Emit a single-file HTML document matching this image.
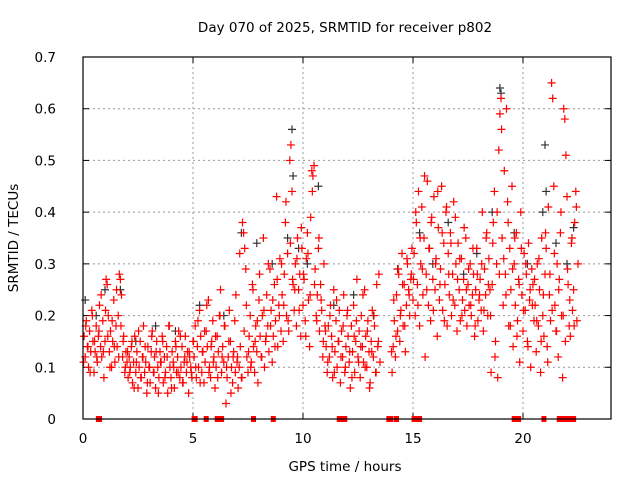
<!DOCTYPE html>
<html><head><meta charset="utf-8"><style>
body{margin:0;background:#fff}
svg{display:block;font-family:"DejaVu Sans","Liberation Sans",sans-serif}
</style></head><body>
<svg id="chart" width="640" height="480" viewBox="0 0 640 480">
<rect width="640" height="480" fill="#fff"/>
<text x="345" y="32" font-size="13.5" text-anchor="middle">Day 070 of 2025, SRMTID for receiver p802</text>
<text x="345" y="471" font-size="13.5" text-anchor="middle">GPS time / hours</text>
<text transform="translate(18,238) rotate(-90)" font-size="13.5" text-anchor="middle">SRMTID / TECUs</text>
<g id="grid"></g>
<g id="ticks"></g>
<g id="black"></g>
<g id="red"></g>
<rect x="83" y="57" width="528" height="362" fill="none" stroke="#000" stroke-width="1.2"/>
</svg>
<script>
const xTicks=[0,5,10,15,20];
const yTicks=[0,0.1,0.2,0.3,0.4,0.5,0.6,0.7];
const yTickLabels=["0","0.1","0.2","0.3","0.4","0.5","0.6","0.7"];
const redHours=[
0.05,0.1,0.15,0.2,0.25,0.3,0.35,0.4,0.45,0.5,
0.55,0.6,0.65,0.7,0.75,0.8,0.85,0.9,0.95,1.0,
1.05,1.1,1.15,1.2,1.25,1.3,1.35,1.4,1.45,1.5,
1.55,1.6,1.65,1.7,1.75,1.8,1.85,1.9,1.95,2.0,
2.05,2.1,2.15,2.2,2.25,2.3,2.35,2.4,2.45,2.5,
2.55,2.6,2.65,2.7,2.75,2.8,2.85,2.9,2.95,3.0,
3.05,3.1,3.15,3.2,3.25,3.3,3.35,3.4,3.45,3.5,
3.55,3.6,3.65,3.7,3.75,3.8,3.85,3.9,3.95,4.0,
4.05,4.1,4.15,4.2,4.25,4.3,4.35,4.4,4.45,4.5,
4.55,4.6,4.65,4.7,4.75,4.8,4.85,4.9,4.95,5.0,
5.05,5.1,5.15,5.2,5.25,5.3,5.35,5.4,5.45,5.5,
5.55,5.6,5.65,5.7,5.75,5.8,5.85,5.9,5.95,6.0,
6.05,6.1,6.15,6.2,6.25,6.3,6.35,6.4,6.45,6.5,
6.55,6.6,6.65,6.7,6.75,6.8,6.85,6.9,6.95,7.0,
7.05,7.1,7.15,7.2,7.25,7.3,7.35,7.4,7.45,7.5,
7.55,7.6,7.65,7.7,7.75,7.8,7.85,7.9,7.95,8.0,
8.05,8.1,8.15,8.2,8.25,8.3,8.35,8.4,8.45,8.5,
8.55,8.6,8.65,8.7,8.75,8.8,8.85,8.9,8.95,9.0,
9.05,9.1,9.15,9.2,9.25,9.3,9.35,9.4,9.45,9.5,
9.55,9.6,9.65,9.7,9.75,9.8,9.85,9.9,9.95,10.0,
10.05,10.1,10.15,10.2,10.25,10.3,10.35,10.4,10.45,10.5,
10.55,10.6,10.65,10.7,10.75,10.8,10.85,10.9,10.95,11.0,
11.05,11.1,11.15,11.2,11.25,11.3,11.35,11.4,11.45,11.5,
11.55,11.6,11.65,11.7,11.75,11.8,11.85,11.9,11.95,12.0,
12.05,12.1,12.15,12.2,12.25,12.3,12.35,12.4,12.45,12.5,
12.55,12.6,12.65,12.7,12.75,12.8,12.85,12.9,12.95,13.0,
13.05,13.1,13.15,13.2,13.25,13.3,13.35,13.4,13.45,13.5,
14.05,14.1,14.15,14.2,14.25,14.3,14.35,14.4,14.45,14.5,
14.55,14.6,14.65,14.7,14.75,14.8,14.85,14.9,14.95,15.0,
15.05,15.1,15.15,15.2,15.25,15.3,15.35,15.4,15.45,15.5,
15.55,15.6,15.65,15.7,15.75,15.8,15.85,15.9,15.95,16.0,
16.05,16.1,16.15,16.2,16.25,16.3,16.35,16.4,16.45,16.5,
16.55,16.6,16.65,16.7,16.75,16.8,16.85,16.9,16.95,17.0,
17.05,17.1,17.15,17.2,17.25,17.3,17.35,17.4,17.45,17.5,
17.55,17.6,17.65,17.7,17.75,17.8,17.85,17.9,17.95,18.0,
18.05,18.1,18.15,18.2,18.25,18.3,18.35,18.4,18.45,18.5,
18.55,18.6,18.65,18.7,18.75,18.8,18.85,18.9,18.95,19.0,
19.05,19.1,19.15,19.2,19.25,19.3,19.35,19.4,19.45,19.5,
19.55,19.6,19.65,19.7,19.75,19.8,19.85,19.9,19.95,20.0,
20.05,20.1,20.15,20.2,20.25,20.3,20.35,20.4,20.45,20.5,
20.55,20.6,20.65,20.7,20.75,20.8,20.85,20.9,20.95,21.0,
21.05,21.1,21.15,21.2,21.25,21.3,21.35,21.4,21.45,21.5,
21.55,21.6,21.65,21.7,21.75,21.8,21.85,21.9,21.95,22.0,
22.05,22.1,22.15,22.2,22.25,22.3,22.35,22.4,22.45,22.5];
const redValues=[
.16,.12,.19,.14,.10,.17,.13,.21,.15,.09,
.13,.18,.11,.16,.22,.14,.12,.19,.08,.15,
.27,.26,.20,.13,.17,.10,.15,.23,.11,.18,
.14,.20,.28,.27,.24,.12,.16,.09,.13,.11,
.08,.12,.10,.14,.07,.11,.16,.09,.13,.06,
.10,.15,.08,.12,.18,.09,.11,.05,.14,.10,
.07,.13,.17,.09,.12,.06,.15,.10,.08,.13,
.11,.16,.07,.12,.09,.14,.05,.18,.10,.08,
.13,.11,.06,.15,.09,.12,.17,.08,.10,.14,
.07,.11,.16,.09,.13,.05,.12,.10,.08,.15,
.12,.18,.08,.14,.10,.21,.16,.09,.13,.07,
.11,.17,.14,.23,.10,.08,.15,.19,.12,.06,
.10,.16,.13,.20,.25,.09,.14,.11,.18,.03,
.08,.12,.21,.15,.10,.07,.13,.19,.24,.11,
.06,.10,.14,.08,.38,.36,.33,.29,.12,.09,
.16,.20,.11,.26,.14,.09,.18,.13,.07,.23,
.16,.12,.20,.35,.10,.15,.24,.18,.13,.29,
.21,.11,.16,.26,.19,.43,.14,.22,.31,.17,
.24,.15,.28,.38,.20,.32,.17,.50,.53,.44,
.26,.21,.30,.18,.35,.25,.28,.16,.33,.22,
.27,.19,.31,.36,.23,.14,.39,.48,.47,.49,
.29,.20,.24,.33,.17,.26,.21,.12,.30,.18,
.14,.09,.18,.12,.22,.16,.08,.25,.13,.19,
.10,.15,.21,.07,.17,.12,.24,.09,.14,.20,
.16,.11,.06,.18,.13,.22,.09,.15,.27,.12,
.17,.08,.20,.14,.11,.25,.16,.10,.19,.13,
.07,.15,.21,.12,.18,.09,.26,.14,.28,.11,
.09,.14,.19,.12,.24,.17,.28,.15,.21,.32,
.18,.26,.13,.22,.30,.25,.20,.27,.33,.23,
.32,.20,.38,.26,.44,.18,.30,.41,.24,.35,
.12,.28,.46,.22,.33,.19,.39,.27,.43,.25,
.31,.16,.37,.23,.29,.45,.21,.34,.26,.40,
.18,.32,.24,.36,.20,.28,.42,.22,.30,.17,
.34,.25,.19,.31,.23,.27,.21,.35,.18,.26,
.22,.30,.20,.24,.28,.16,.25,.33,.19,.23,
.27,.21,.40,.17,.29,.24,.36,.20,.31,.25,
.09,.26,.38,.44,.15,.30,.08,.52,.59,.62,
.35,.22,.48,.28,.60,.42,.18,.33,.25,.45,
.14,.30,.22,.36,.19,.27,.11,.40,.24,.17,
.32,.21,.28,.15,.34,.23,.10,.29,.26,.19,
.22,.13,.30,.18,.25,.09,.35,.20,.16,.28,
.33,.14,.41,.24,.19,.65,.62,.45,.22,.17,
.30,.12,.27,.36,.20,.08,.60,.58,.51,.43,
.26,.18,.16,.34,.21,.25,.38,.44,.19,.30];
const red2Hours=[
0.025,0.125,0.225,0.325,0.425,0.525,0.625,0.725,0.825,0.925,
1.025,1.125,1.225,1.325,1.425,1.525,1.625,1.725,1.825,1.925,
2.025,2.125,2.225,2.325,2.425,2.525,2.625,2.725,2.825,2.925,
3.025,3.125,3.225,3.325,3.425,3.525,3.625,3.725,3.825,3.925,
4.025,4.125,4.225,4.325,4.425,4.525,4.625,4.725,4.825,4.925,
5.025,5.125,5.225,5.325,5.425,5.525,5.625,5.725,5.825,5.925,
6.025,6.125,6.225,6.325,6.425,6.525,6.625,6.725,6.825,6.925,
7.025,7.125,7.225,7.325,7.425,7.525,7.625,7.725,7.825,7.925,
8.025,8.125,8.225,8.325,8.425,8.525,8.625,8.725,8.825,8.925,
9.025,9.125,9.225,9.325,9.425,9.525,9.625,9.725,9.825,9.925,
10.025,10.125,10.225,10.325,10.425,10.525,10.625,10.725,10.825,10.925,
11.025,11.125,11.225,11.325,11.425,11.525,11.625,11.725,11.825,11.925,
12.025,12.125,12.225,12.325,12.425,12.525,12.625,12.725,12.825,12.925,
13.025,13.125,13.225,13.325,13.425,
14.025,14.125,14.225,14.325,14.425,14.525,14.625,14.725,14.825,14.925,
15.025,15.125,15.225,15.325,15.425,15.525,15.625,15.725,15.825,15.925,
16.025,16.125,16.225,16.325,16.425,16.525,16.625,16.725,16.825,16.925,
17.025,17.125,17.225,17.325,17.425,17.525,17.625,17.725,17.825,17.925,
18.025,18.125,18.225,18.325,18.425,
18.525,18.625,18.725,18.825,18.925,19.025,19.125,19.225,19.325,19.425,
19.525,19.625,19.725,19.825,19.925,20.025,20.125,20.225,20.325,20.425,
20.525,20.625,20.725,20.825,20.925,21.025,21.125,21.225,21.325,21.425,
21.525,21.625,21.725,21.825,21.925,22.025,22.125,22.225,22.325,22.425];
const red2Values=[
.11,.18,.14,.09,.20,.15,.12,.17,.24,.13,
.21,.16,.10,.19,.14,.25,.12,.18,.15,.10,
.13,.09,.15,.06,.11,.17,.08,.12,.14,.07,
.10,.16,.09,.13,.05,.11,.15,.08,.12,.18,
.06,.10,.14,.09,.16,.07,.12,.11,.13,.09,
.15,.10,.19,.07,.13,.17,.22,.09,.14,.11,
.16,.08,.20,.12,.18,.10,.15,.05,.12,.09,
.12,.32,.08,.17,.22,.13,.10,.25,.15,.19,
.28,.12,.21,.16,.30,.18,.23,.14,.27,.20,
.30,.22,.42,.19,.34,.27,.25,.31,.21,.37,
.28,.16,.32,.24,.44,.26,.19,.35,.23,.15,
.17,.11,.20,.14,.09,.23,.15,.12,.18,.10,
.21,.13,.08,.16,.19,.11,.14,.24,.10,.17,
.06,.13,.20,.09,.15,
.13,.23,.16,.29,.20,.26,.18,.31,.24,.28,
.27,.40,.22,.35,.29,.47,.25,.33,.38,.21,
.30,.44,.26,.36,.19,.41,.28,.34,.23,.39,
.27,.31,.20,.37,.25,.29,.22,.33,.18,.28,
.24,.30,.21,.35,.26,
.20,.34,.12,.40,.28,.56,.31,.24,.38,.18,
.29,.35,.16,.26,.33,.21,.30,.14,.25,.22,
.27,.19,.31,.15,.24,.36,.11,.28,.21,.32,
.17,.25,.40,.20,.15,.29,.23,.35,.18,.41];
const blackHours=[0.1,0.6,1.0,1.7,2.4,3.3,4.2,5.3,6.4,7.2,7.9,8.6,9.3,9.5,9.55,9.8,10.2,10.7,11.4,12.3,13.2,14.3,15.3,15.9,16.6,17.3,17.9,18.6,18.95,19.0,19.6,20.2,20.9,21.0,21.05,21.5,22.0,22.3];
const blackValues=[.23,.20,.25,.25,.15,.18,.17,.22,.20,.36,.34,.30,.35,.56,.47,.33,.30,.45,.22,.24,.20,.29,.36,.30,.38,.28,.32,.40,.64,.63,.36,.30,.40,.53,.44,.34,.30,.37];
const zeroHours=[0.7,0.75,5.05,5.1,5.6,6.1,6.2,6.3,7.75,8.65,11.65,11.75,11.9,13.9,14.0,14.25,15.05,15.15,15.3,19.6,19.7,19.8,20.95,21.65,21.75,21.85,22.0,22.1,22.2,22.3];

const X0=83,X1=611,Y0=419,Y1=57,XMAX=24,YMAX=0.7;
const xs=h=>X0+(h/XMAX)*(X1-X0);
const ys=v=>Y0-(v/YMAX)*(Y0-Y1);
const NS="http://www.w3.org/2000/svg";
function mk(tag,attrs,parent){const e=document.createElementNS(NS,tag);for(const k in attrs)e.setAttribute(k,attrs[k]);parent.appendChild(e);return e;}
const grid=document.getElementById('grid'),ticks=document.getElementById('ticks');
xTicks.forEach(t=>{
  const x=xs(t);
  if(t>0){const l=mk('line',{x1:x,x2:x,y1:Y1,y2:Y0,stroke:'#999','stroke-dasharray':'2,3'},grid);
  
  }
  mk('line',{x1:x,x2:x,y1:Y0,y2:Y0-6,stroke:'#000'},ticks);
  mk('line',{x1:x,x2:x,y1:Y1,y2:Y1+6,stroke:'#000'},ticks);
  const tx=mk('text',{x:x,y:Y0+24,'font-size':13.5,'text-anchor':'middle'},ticks);
  tx.textContent=t;
  
  
});
yTicks.forEach((t,i)=>{
  const y=ys(t);
  if(t>0&&t<YMAX){const l=mk('line',{x1:X0,x2:X1,y1:y,y2:y,stroke:'#999','stroke-dasharray':'2,3'},grid);
  
  }
  mk('line',{x1:X0,x2:X0+6,y1:y,y2:y,stroke:'#000'},ticks);
  mk('line',{x1:X1,x2:X1-6,y1:y,y2:y,stroke:'#000'},ticks);
  const tx=mk('text',{x:56,y:y+5,'font-size':13.5,'text-anchor':'end'},ticks);
  tx.textContent=yTickLabels[i];
  
  
});
function plus(g,h,v,color){
  const x=xs(h),y=ys(v);
  return mk('path',{d:`M${x-4},${y}H${x+4}M${x},${y-4}V${y+4}`,stroke:color,'stroke-width':1.2,fill:'none'},g);
}
const bg=document.getElementById('black'),rg=document.getElementById('red');
blackHours.forEach((h,i)=>{
  const p=plus(bg,h,blackValues[i],'#333');
  
  
});
redHours.forEach((h,i)=>{
  const p=plus(rg,h,redValues[i],'#ff0000');
  
  
});
red2Hours.forEach((h,i)=>{
  const p=plus(rg,h,red2Values[i],'#ff0000');
  
  
});
zeroHours.forEach(h=>{
  const r=mk('rect',{x:xs(h)-2.5,y:Y0-3,width:5,height:6,fill:'#ff0000'},rg);
  
  
});
</script>
</body></html>
